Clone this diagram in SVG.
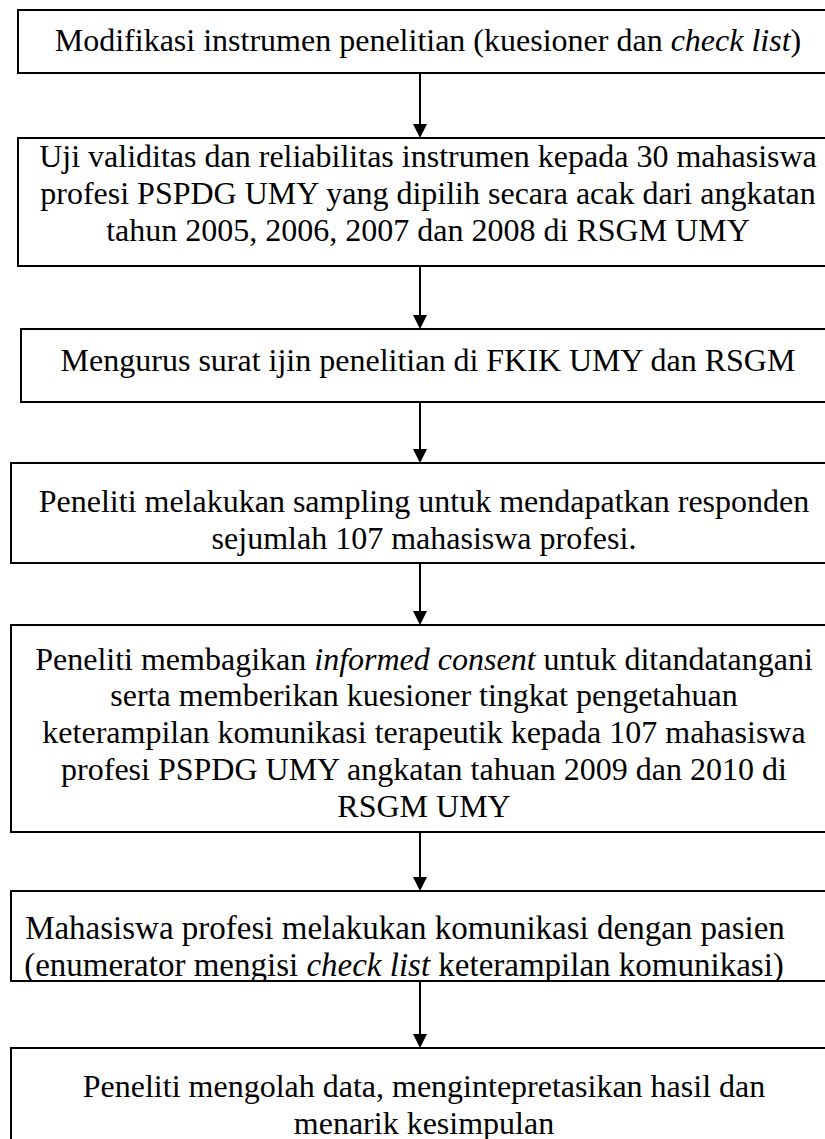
<svg xmlns="http://www.w3.org/2000/svg" width="825" height="1139" viewBox="0 0 825 1139">
<style>
.box{fill:#fff;stroke:#000;stroke-width:2}
.t{font-family:"Liberation Serif","Times New Roman",serif;font-size:32px;fill:#000;text-anchor:middle}
.w{font-size:33px}
.i{font-style:italic}
.c{stroke:#000;stroke-width:2;fill:none}
.h{fill:#000}
</style>
<defs>
<clipPath id="c6"><rect x="12" y="892" width="830" height="88"/></clipPath>
</defs>
<rect width="825" height="1139" fill="#fff"/>
<g id="connectors">
<line class="c" x1="420" y1="73" x2="420" y2="124"/><path class="h" d="M413,124 L427,124 L420,138 Z"/>
<line class="c" x1="420" y1="266" x2="420" y2="315"/><path class="h" d="M413,315 L427,315 L420,329 Z"/>
<line class="c" x1="420" y1="402" x2="420" y2="449"/><path class="h" d="M413,449 L427,449 L420,463 Z"/>
<line class="c" x1="420" y1="563" x2="420" y2="611"/><path class="h" d="M413,611 L427,611 L420,625 Z"/>
<line class="c" x1="420" y1="832" x2="420" y2="877"/><path class="h" d="M413,877 L427,877 L420,891 Z"/>
<line class="c" x1="420" y1="981" x2="420" y2="1034"/><path class="h" d="M413,1034 L427,1034 L420,1048 Z"/>
</g>
<g id="n1"><rect class="box" x="18" y="10" width="830" height="63"/>
<text class="t" x="428" y="51">Modifikasi instrumen penelitian (kuesioner dan <tspan class="i">check list</tspan>)</text></g>
<g id="n2"><rect class="box" x="18" y="138" width="830" height="128"/>
<text class="t" x="428" y="167">Uji validitas dan reliabilitas instrumen kepada 30 mahasiswa</text>
<text class="t" x="428" y="204">profesi PSPDG UMY yang dipilih secara acak dari angkatan</text>
<text class="t" x="428" y="241">tahun 2005, 2006, 2007 dan 2008 di RSGM UMY</text></g>
<g id="n3"><rect class="box" x="21" y="329" width="830" height="73"/>
<text class="t" x="428" y="371">Mengurus surat ijin penelitian di FKIK UMY dan RSGM</text></g>
<g id="n4"><rect class="box" x="11" y="463" width="830" height="100"/>
<text class="t" x="424" y="512">Peneliti melakukan sampling untuk mendapatkan responden</text>
<text class="t" x="424" y="549">sejumlah 107 mahasiswa profesi.</text></g>
<g id="n5"><rect class="box" x="11" y="625" width="830" height="207"/>
<text class="t" x="424" y="670">Peneliti membagikan <tspan class="i">informed consent</tspan> untuk ditandatangani</text>
<text class="t" x="424" y="706">serta memberikan kuesioner tingkat pengetahuan</text>
<text class="t" x="424" y="743">keterampilan komunikasi terapeutik kepada 107 mahasiswa</text>
<text class="t" x="424" y="780">profesi PSPDG UMY angkatan tahuan 2009 dan 2010 di</text>
<text class="t" x="424" y="817">RSGM UMY</text></g>
<g id="n6"><rect class="box" x="11" y="891" width="830" height="90"/>
<g clip-path="url(#c6)">
<text class="t w" x="405" y="939">Mahasiswa profesi melakukan komunikasi dengan pasien</text>
<text class="t w" x="404" y="976">(enumerator mengisi <tspan class="i">check list</tspan> keterampilan komunikasi)</text></g></g>
<g id="n7"><rect class="box" x="11" y="1048" width="830" height="110"/>
<text class="t" x="424" y="1097">Peneliti mengolah data, mengintepretasikan hasil dan</text>
<text class="t" x="424" y="1134">menarik kesimpulan</text></g>
</svg>
